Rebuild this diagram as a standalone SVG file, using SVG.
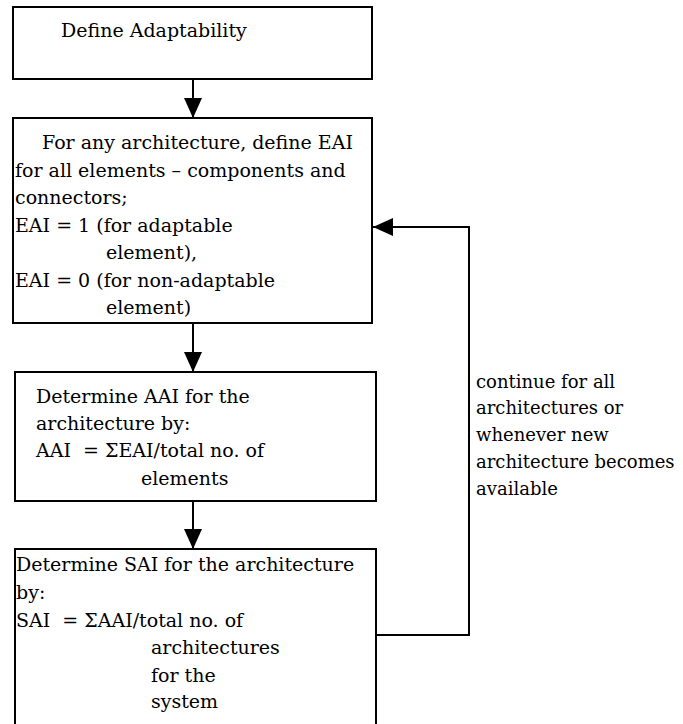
<svg xmlns="http://www.w3.org/2000/svg" width="683" height="724" viewBox="0 0 683 724">
  <style>
    .box { fill: #ffffff; stroke: #000000; stroke-width: 2; }
    .edge { fill: none; stroke: #000000; stroke-width: 2; }
    text { font-family: "DejaVu Serif", serif; font-size: 19px; fill: #000000; white-space: pre; }
    text.note { font-size: 18px; }
  </style>
  <defs>
    <marker id="arrowhead" viewBox="0 0 20 18" refX="20" refY="9" markerWidth="20" markerHeight="18" orient="auto" markerUnits="userSpaceOnUse">
      <path d="M0,0 L20,9 L0,18 Z" fill="#000000"/>
    </marker>
  </defs>
  <rect width="683" height="724" fill="#ffffff"/>

  <!-- connectors -->
  <g id="connectors">
    <line class="edge" x1="193" y1="79" x2="193" y2="118" marker-end="url(#arrowhead)"/>
    <line class="edge" x1="193" y1="323" x2="193" y2="372" marker-end="url(#arrowhead)"/>
    <line class="edge" x1="193" y1="501" x2="193" y2="549" marker-end="url(#arrowhead)"/>
    <polyline class="edge" points="376,635 469,635 469,227 373,227" marker-end="url(#arrowhead)"/>
    <g id="loop-label">
      <text class="note" x="476" y="388">continue for all</text>
      <text class="note" x="476" y="414">architectures or</text>
      <text class="note" x="476" y="441">whenever new</text>
      <text class="note" x="476" y="468">architecture becomes</text>
      <text class="note" x="476" y="495">available</text>
    </g>
  </g>

  <!-- step 1 -->
  <g id="define-adaptability">
    <rect class="box" x="13" y="7" width="359" height="72"/>
    <text x="61" y="37">Define Adaptability</text>
  </g>

  <!-- step 2 -->
  <g id="define-eai">
    <rect class="box" x="13" y="118" width="359" height="205"/>
    <text x="42" y="149">For any architecture, define EAI</text>
    <text x="15" y="176.5">for all elements – components and</text>
    <text x="15" y="204">connectors;</text>
    <text x="15" y="231.5">EAI = 1 (for adaptable</text>
    <text x="106" y="259">element),</text>
    <text x="15" y="286.5">EAI = 0 (for non-adaptable</text>
    <text x="106" y="314">element)</text>
  </g>

  <!-- step 3 -->
  <g id="determine-aai">
    <rect class="box" x="15" y="372" width="361" height="129"/>
    <text x="36" y="403">Determine AAI for the</text>
    <text x="36" y="430">architecture by:</text>
    <text x="36" y="457">AAI  = ΣEAI/total no. of</text>
    <text x="141" y="485">elements</text>
  </g>

  <!-- step 4 -->
  <g id="determine-sai">
    <rect class="box" x="15" y="549" width="361" height="200"/>
    <text x="16" y="571">Determine SAI for the architecture</text>
    <text x="16" y="599">by:</text>
    <text x="16" y="627">SAI  = ΣAAI/total no. of</text>
    <text x="151" y="654">architectures</text>
    <text x="151" y="682">for the</text>
    <text x="151" y="708">system</text>
  </g>
</svg>
